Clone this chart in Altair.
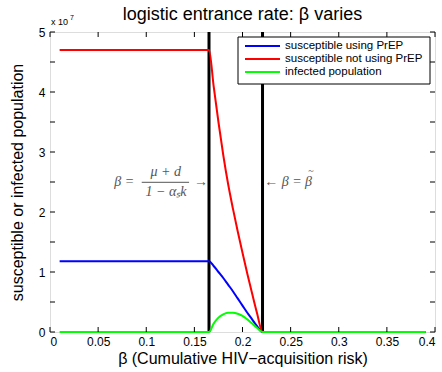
import altair as alt
import pandas as pd

# beta grid (cumulative HIV-acquisition risk) and population curves, in units of 10^7
beta_lo = 0.01
beta_hi = 0.39
beta_1 = 0.1652   # beta = (mu + d) / (1 - alpha_s k)
beta_2 = 0.2208   # beta = beta tilde

beta_mid = [0.1652, 0.170, 0.175, 0.180, 0.185, 0.190, 0.195, 0.200, 0.205, 0.210, 0.215, 0.2208]
s_prep_mid = [1.18, 1.10, 1.00, 0.90, 0.79, 0.68, 0.56, 0.44, 0.32, 0.21, 0.10, 0.0]
s_noprep_mid = [4.70, 4.10, 3.50, 2.95, 2.47, 2.06, 1.68, 1.32, 0.97, 0.64, 0.32, 0.0]
infected_mid = [0.0, 0.14, 0.24, 0.295, 0.32, 0.32, 0.305, 0.27, 0.21, 0.14, 0.07, 0.0]

s_prep_flat = 1.18
s_noprep_flat = 4.70

series_names = ["susceptible using PrEP", "susceptible not using PrEP", "infected population"]
series_colors = ["#0000ff", "#ff0000", "#00ff00"]

x_ticks = [0, 0.05, 0.1, 0.15, 0.2, 0.25, 0.3, 0.35, 0.4]
y_ticks = [0, 0.5, 1, 1.5, 2, 2.5, 3, 3.5, 4, 4.5, 5]

W, H = 385, 300
FONT = "Liberation Sans"
SERIF = "Liberation Serif"

rows = []
for name, flat, mid in [
    (series_names[0], s_prep_flat, s_prep_mid),
    (series_names[1], s_noprep_flat, s_noprep_mid),
    (series_names[2], 0.0, infected_mid),
]:
    pts = [(beta_lo, flat)] + list(zip(beta_mid, mid)) + [(beta_hi, 0.0)]
    for i, (b, v) in enumerate(pts):
        rows.append({"beta": b, "value": v, "series": name, "order": i})
df = pd.DataFrame(rows)

xs = alt.Scale(domain=[0, 0.4], nice=False, zero=False)
ys = alt.Scale(domain=[0, 5], nice=False)

color = alt.Color("series:N", scale=alt.Scale(domain=series_names, range=series_colors), legend=None)

lines = alt.Chart(df).mark_line(strokeWidth=2, clip=False, interpolate="monotone").encode(
    x=alt.X("beta:Q", scale=xs, axis=alt.Axis(
        values=x_ticks, format="~g", title="β (Cumulative HIV−acquisition risk)",
        ticks=False, domain=False, grid=False, labelFont=FONT, labelFontSize=12,
        labelColor="black", labelPadding=4, titleFont=FONT, titleFontSize=16,
        titleFontWeight="normal", titleColor="black", titlePadding=3)),
    y=alt.Y("value:Q", scale=ys, axis=alt.Axis(
        values=y_ticks, format="~g", title="susceptible or infected population",
        ticks=False, domain=False, grid=False, labelFont=FONT, labelFontSize=12,
        labelColor="black", labelPadding=5, titleFont=FONT, titleFontSize=16,
        titleFontWeight="normal", titleColor="black", titlePadding=13)),
    color=color,
    detail="series:N",
    order="order:Q",
)

# threshold lines
thr = pd.DataFrame({"beta": [beta_1, beta_2], "y0": [0, 0], "y1": [5, 5]})
vlines = alt.Chart(thr).mark_rule(color="black", strokeWidth=3).encode(
    x=alt.X("beta:Q", scale=xs), y=alt.Y("y0:Q", scale=ys), y2="y1:Q")

# inward tick marks on all four sides
xt = pd.DataFrame({"t": x_ticks})
yt = pd.DataFrame({"t": y_ticks})
tk = dict(color="black", strokeWidth=1)
xt_bot = alt.Chart(xt).mark_rule(**tk).encode(x=alt.X("t:Q", scale=xs), y=alt.value(H), y2=alt.value(H - 5))
xt_top = alt.Chart(xt).mark_rule(**tk).encode(x=alt.X("t:Q", scale=xs), y=alt.value(0), y2=alt.value(5))
yt_l = alt.Chart(yt).mark_rule(**tk).encode(y=alt.Y("t:Q", scale=ys), x=alt.value(0), x2=alt.value(5))
yt_r = alt.Chart(yt).mark_rule(**tk).encode(y=alt.Y("t:Q", scale=ys), x=alt.value(W), x2=alt.value(W - 5))

# chart title
title = alt.Chart(pd.DataFrame({"s": ["logistic entrance rate: β varies"]})).mark_text(
    font=FONT, fontSize=18, align="center", baseline="middle", color="black").encode(
    text="s:N", x=alt.value(W / 2), y=alt.value(-17))

# exponent marker above the y axis
exp_base = alt.Chart(pd.DataFrame({"s": ["x 10"]})).mark_text(
    font=FONT, fontSize=9, align="left", baseline="alphabetic", color="black").encode(
    text="s:N", x=alt.value(1), y=alt.value(-7))
exp_pow = alt.Chart(pd.DataFrame({"s": ["7"]})).mark_text(
    font=FONT, fontSize=7, align="left", baseline="alphabetic", color="black").encode(
    text="s:N", x=alt.value(20), y=alt.value(-12))

# threshold annotations
ann_color = "#555555"
ann = pd.DataFrame({
    "beta": [0.077, 0.1203, 0.1205, 0.157, 0.2225],
    "value": [2.50, 2.66, 2.33, 2.50, 2.50],
    "txt": ["β =", "μ + d", "1 − αₛk", "→", "← β = β"],
    "align": ["center", "center", "center", "center", "left"],
})
ann_c = alt.Chart(ann[ann["align"] == "center"]).mark_text(
    font=SERIF, fontStyle="italic", fontSize=14, align="center", baseline="middle", color=ann_color).encode(
    x=alt.X("beta:Q", scale=xs), y=alt.Y("value:Q", scale=ys), text="txt:N")
ann_l = alt.Chart(ann[ann["align"] == "left"]).mark_text(
    font=SERIF, fontStyle="italic", fontSize=14, align="left", baseline="middle", color=ann_color).encode(
    x=alt.X("beta:Q", scale=xs), y=alt.Y("value:Q", scale=ys), text="txt:N")
# tilde over the last beta
tilde = alt.Chart(pd.DataFrame({"beta": [0.2712], "value": [2.69], "txt": ["~"]})).mark_text(
    font=SERIF, fontSize=10, align="center", baseline="middle", color=ann_color).encode(
    x=alt.X("beta:Q", scale=xs), y=alt.Y("value:Q", scale=ys), text="txt:N")
frac = alt.Chart(pd.DataFrame({"b0": [0.0953], "b1": [0.1445], "v": [2.495]})).mark_rule(
    color=ann_color, strokeWidth=1).encode(
    x=alt.X("b0:Q", scale=xs), x2="b1:Q", y=alt.Y("v:Q", scale=ys))

# legend box
leg = pd.DataFrame({"series": series_names, "idx": [0, 1, 2]})
leg["py"] = 14 + 13 * leg["idx"]
leg_box = alt.Chart(pd.DataFrame({"a": [0]})).mark_rect(
    fill="white", stroke="black", strokeWidth=1).encode(
    x=alt.value(188), x2=alt.value(380), y=alt.value(5), y2=alt.value(52))
leg_sym = alt.Chart(leg).mark_rule(strokeWidth=2).encode(
    x=alt.value(195), x2=alt.value(230), y=alt.Y("py:Q", scale=None), color=color)
leg_txt = alt.Chart(leg).mark_text(
    font=FONT, fontSize=11.5, align="left", baseline="middle", color="black").encode(
    x=alt.value(235), y=alt.Y("py:Q", scale=None), text="series:N")

chart = alt.layer(
    vlines, lines, xt_bot, xt_top, yt_l, yt_r, title, exp_base, exp_pow,
    ann_c, ann_l, tilde, frac, leg_box, leg_sym, leg_txt,
).resolve_scale(y="shared").properties(
    width=W, height=H,
    autosize=alt.AutoSizeParams(type="none"),
    padding={"left": 50, "top": 32, "right": 7, "bottom": 40},
).configure_view(stroke="black", strokeWidth=2).configure(background="white")

chart.save("out.html", embed_options={"renderer": "svg", "actions": False})
